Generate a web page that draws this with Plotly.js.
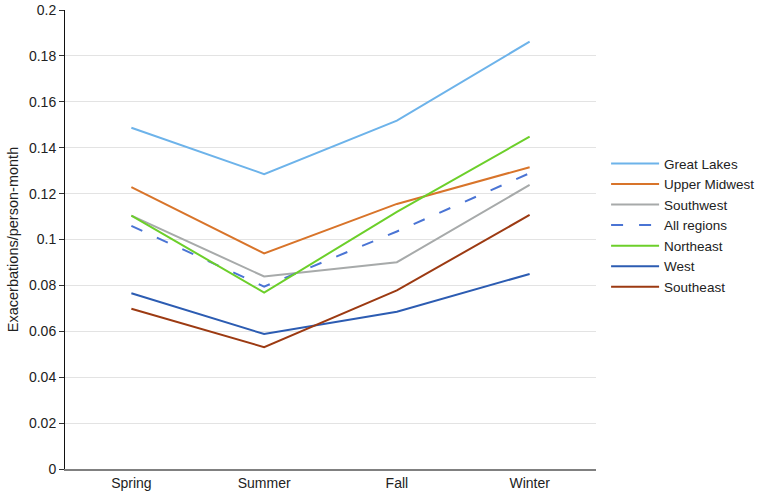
<!DOCTYPE html>
<html>
<head>
<meta charset="utf-8">
<script src="https://cdn.plot.ly/plotly-3.0.1.min.js"></script>
<style>html,body{margin:0;padding:0;background:#fff}#chart{width:760px;height:492px}</style>
</head>
<body>
<div id="chart"></div>
<script>
const seasons = ["Spring", "Summer", "Fall", "Winter"];
const greatLakes   = [0.1487, 0.1285, 0.1518, 0.1862];
const upperMidwest = [0.1228, 0.0939, 0.1155, 0.1315];
const southwest    = [0.1104, 0.0839, 0.0901, 0.1238];
const allRegions   = [0.1059, 0.0795, 0.1035, 0.1289];
const northeast    = [0.1104, 0.0769, 0.1120, 0.1448];
const west         = [0.0766, 0.0588, 0.0685, 0.0850];
const southeast    = [0.0698, 0.0531, 0.0778, 0.1107];
const yTicks = [0, 0.02, 0.04, 0.06, 0.08, 0.1, 0.12, 0.14, 0.16, 0.18, 0.2];
const yTickText = ["0", "0.02", "0.04", "0.06", "0.08", "0.1", "0.12", "0.14", "0.16", "0.18", "0.2"];

const series = [
  {name: "Great Lakes", y: greatLakes, color: "#6DB3EA", dash: "solid"},
  {name: "Upper Midwest", y: upperMidwest, color: "#D8742A", dash: "solid"},
  {name: "Southwest", y: southwest, color: "#A7AAAA", dash: "solid"},
  {name: "All regions", y: allRegions, color: "#4A74D4", dash: "12px,16px"},
  {name: "Northeast", y: northeast, color: "#6CCF2A", dash: "solid"},
  {name: "West", y: west, color: "#2C5CB2", dash: "solid"},
  {name: "Southeast", y: southeast, color: "#9C3A12", dash: "solid"}
];

const traces = series.map(s => ({
  type: "scatter", mode: "lines", name: s.name, x: seasons, y: s.y,
  line: {color: s.color, width: 2, dash: s.dash}
}));

const layout = {
  width: 760, height: 492,
  margin: {l: 65, r: 164, t: 10, b: 23, autoexpand: false},
  paper_bgcolor: "#fff", plot_bgcolor: "#fff",
  font: {family: "Liberation Sans, Arial, sans-serif", size: 13, color: "#222"},
  showlegend: true,
  legend: {x: 1.019, y: 0.699, xanchor: "left", yanchor: "top", itemwidth: 48,
           font: {size: 13.5, color: "#222"}, bgcolor: "rgba(0,0,0,0)"},
  xaxis: {
    type: "category", showgrid: false, zeroline: false,
    showline: true, linecolor: "#808080", linewidth: 2,
    ticks: "", tickfont: {size: 14, color: "#222"}, range: [-0.5, 3.5], fixedrange: true
  },
  yaxis: {
    range: [0, 0.2], tickvals: yTicks, ticktext: yTickText,
    showgrid: true, gridcolor: "#E3E3E3", gridwidth: 1, zeroline: false,
    showline: true, linecolor: "#111", linewidth: 1,
    ticks: "outside", ticklen: 5, tickcolor: "#333",
    tickfont: {size: 14, color: "#222"},
    title: {text: "Exacerbations/person-month", font: {size: 14.5, color: "#222"}, standoff: 6}
  }
};

Plotly.newPlot("chart", traces, layout, {displayModeBar: false, staticPlot: true});
</script>
</body>
</html>
